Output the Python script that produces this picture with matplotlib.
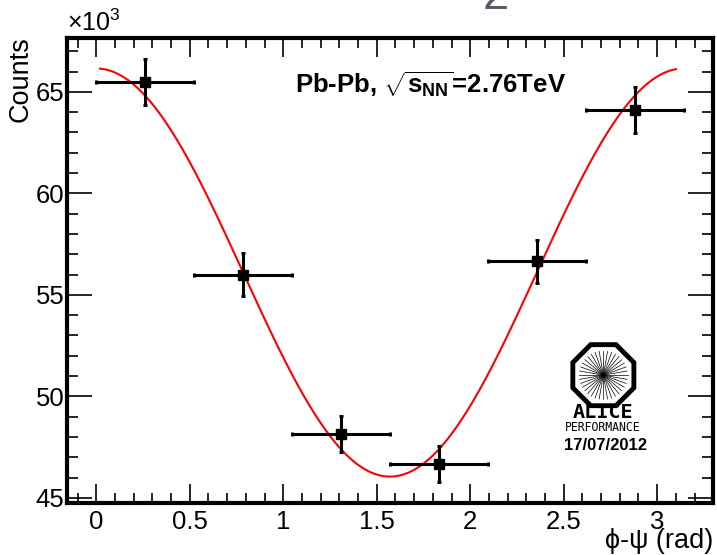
import numpy as np
import matplotlib
matplotlib.use("Agg")
import matplotlib.pyplot as plt
from matplotlib.patches import RegularPolygon
from matplotlib.ticker import MultipleLocator

# phi - psi bins (rad), counts in units of 10^3
bin_centers = [0.262, 0.785, 1.309, 1.833, 2.356, 2.880]
bin_halfwidth = [0.262, 0.262, 0.262, 0.262, 0.262, 0.262]
counts = [65.48, 56.00, 48.15, 46.67, 56.65, 64.10]
count_err = [1.15, 1.05, 0.90, 0.90, 1.05, 1.12]

# fit: p0 + a * cos(2(phi - psi))
fit_p0 = 56.1
fit_amp = 10.05
fit_range = (0.02, 3.10)

plt.rcParams["font.family"] = ["Liberation Sans", "DejaVu Sans"]
plt.rcParams["mathtext.fontset"] = "custom"
plt.rcParams["mathtext.rm"] = "Liberation Sans"
plt.rcParams["mathtext.bf"] = "Liberation Sans:bold"
plt.rcParams["mathtext.it"] = "Liberation Sans:italic"

fig = plt.figure(figsize=(7.17, 5.55), dpi=100)
ax = fig.add_axes([0.0934, 0.0937, 0.901, 0.8378])

xf = np.linspace(fit_range[0], fit_range[1], 300)
ax.plot(xf, fit_p0 + fit_amp * np.cos(2 * xf), color="#ff0000", lw=1.5, zorder=2)

ax.errorbar(bin_centers, counts, xerr=bin_halfwidth, yerr=count_err,
            fmt="s", color="black", ms=7.5, elinewidth=2.2, capsize=1.5,
            capthick=2.2, zorder=3)

ax.set_xlim(-np.pi / 20, 21 * np.pi / 20)
ax.set_ylim(44.75, 67.65)
ax.xaxis.set_major_locator(MultipleLocator(0.5))
ax.xaxis.set_minor_locator(MultipleLocator(0.1))
ax.yaxis.set_major_locator(MultipleLocator(5))
ax.yaxis.set_minor_locator(MultipleLocator(1))
ax.set_xticks([0, 0.5, 1, 1.5, 2, 2.5, 3])
ax.set_xticklabels(["0", "0.5", "1", "1.5", "2", "2.5", "3"])
ax.tick_params(which="both", direction="in", top=True, right=True,
               labelsize=18.5, width=1.2)
ax.tick_params(axis="x", which="major", length=14, pad=5)
ax.tick_params(axis="x", which="minor", length=7)
ax.tick_params(axis="y", which="major", length=18, pad=2)
ax.tick_params(axis="y", which="minor", length=8)
for sp in ax.spines.values():
    sp.set_linewidth(3)

ax.text(0.0, 1.004, r"$\times10^{3}$", transform=ax.transAxes,
        fontsize=18, ha="left", va="bottom")
fig.text(0.010, 0.935, "Counts", rotation=90, fontsize=19.5, ha="left", va="top")
fig.text(0.995, 0.002, "ϕ-ψ (rad)", fontsize=19.5, ha="right", va="bottom")
ax.text(0.562, 0.899, r"Pb-Pb, $\mathbf{\sqrt{s_{NN}}}$=2.76TeV",
        transform=ax.transAxes, fontsize=18.5, fontweight="bold",
        ha="center", va="center")

# slide artefact at top
fig.text(0.691, 1.005, "2", fontsize=34, color="#555c66", ha="center",
         va="center")

# ALICE performance logo
cx, cy = 0.8415, 0.324
logo = fig.add_axes([cx - 0.05, cy - 0.064, 0.1, 0.128])
logo.set_xlim(-1, 1)
logo.set_ylim(-1, 1)
logo.set_aspect("equal")
logo.axis("off")
logo.add_patch(RegularPolygon((0, 0), 8, radius=0.93, orientation=np.pi / 8,
                              fill=False, lw=3.5, ec="black"))
for a in np.linspace(0, np.pi, 18, endpoint=False):
    logo.plot([-0.68 * np.cos(a), 0.68 * np.cos(a)],
              [-0.68 * np.sin(a), 0.68 * np.sin(a)], color="black", lw=0.5)
fig.text(0.841, 0.257, "ALICE", fontsize=14.5, family="DejaVu Sans Mono",
         fontweight="bold", ha="center", va="center")
fig.text(0.841, 0.229, "PERFORMANCE", fontsize=8.3, family="DejaVu Sans Mono",
         ha="center", va="center")
fig.text(0.845, 0.197, "17/07/2012", fontsize=12, fontweight="bold",
         ha="center", va="center")

fig.savefig("out.png", dpi=100)
